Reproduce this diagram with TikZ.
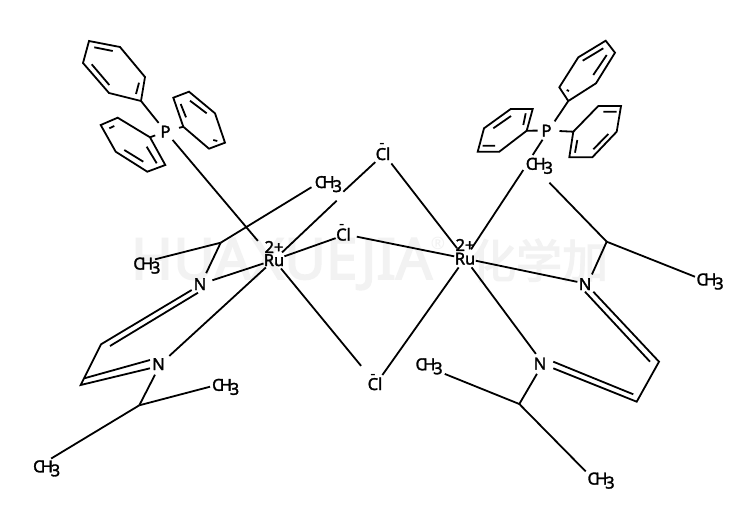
\documentclass[tikz,border=0pt]{standalone}
\usepackage{fontspec}
\setmainfont{Noto Sans}
\newfontfamily\cjkwm{Noto Sans CJK SC}
\definecolor{wmgrey}{HTML}{F2F2F2}
\newcommand\heavy[2]{\special{pdf:code q 2 Tr #1 w}#2\special{pdf:code Q}}
\newcommand\lab[2][0pt]{\makebox[0pt]{\kern#1\raisebox{-6pt}[0pt][0pt]{\heavy{0.3}{#2}}}}
\newcommand\chgroup{\makebox[0pt][l]{\kern-5.2pt\raisebox{-6pt}[0pt][0pt]{\heavy{0.3}{C\kern-2.8pt H\kern-2.2pt\raisebox{-4pt}{3}}}}}
\tikzset{
  bond/.style={line width=1.8pt,black},
  atom/.style={circle,inner sep=0pt,outer sep=0pt,minimum size=#1,font=\fontsize{16.5}{16.5}\selectfont,text=black},
  charge/.style={inner sep=0pt,outer sep=0pt,font=\fontsize{16.5}{16.5}\selectfont,text=black},
  wm/.style={inner sep=0pt,outer sep=0pt,text=wmgrey}
}
\begin{document}
\begin{tikzpicture}[x=1pt,y=-1pt]
\fill[white] (0,0) rectangle (743,520);
\useasboundingbox (0,0) rectangle (743,520);
% watermark
\node[wm,anchor=base west,font=\fontsize{57}{57}\selectfont] (wmA) at (131,279) {\heavy{1.6}{HUAXUEJIA}};
\node[wm,font=\fontsize{17}{17}\selectfont] (wmB) at (438,243) {®};
\node[wm,anchor=base west,font=\cjkwm\fontsize{46}{46}\selectfont] (wmC) at (470,278) {\heavy{1.2}{化学加}};
% metal and hetero atoms
\node[atom=22pt] (RuL) at (274,260) {\lab{Ru}};
\node[atom=22pt] (RuR) at (465,258.5) {\lab{Ru}};
\node[charge] (qL) at (274,247) {\heavy{0.3}{2+}};
\node[charge] (qR) at (465,245) {\heavy{0.3}{2+}};
\node[atom=24pt] (ClT) at (384,154) {\lab[-2pt]{Cl}};
\node[atom=22pt] (ClM) at (346,234.5) {\lab[-5pt]{Cl}};
\node[atom=22pt] (ClB) at (376,384) {\lab[-2pt]{Cl}};
\node[charge] (mT) at (382,146) {-};
\node[charge] (mM) at (341.7,227) {-};
\node[charge] (mB) at (373,377) {-};
\node[atom=22pt] (PL) at (165.5,131.5) {\lab{P}};
\node[atom=22pt] (PR) at (548.5,130.5) {\lab[-4pt]{P}};
\node[atom=24pt] (NLa) at (201,284) {\lab[-2pt]{N}};
\node[atom=24pt] (NLb) at (160.5,364) {\lab[-4pt]{N}};
\node[atom=21pt] (NRa) at (587.6,284) {\lab[-5pt]{N}};
\node[atom=24pt] (NRb) at (543,363.5) {\lab[-6pt]{N}};
% methyl groups
\node[atom=20pt] (Me1) at (320,182) {\chgroup};
\node[atom=34pt] (Me2) at (138.5,263.5) {\chgroup};
\node[atom=30pt] (Me3) at (38.3,466.3) {\chgroup};
\node[atom=15pt] (Me4) at (217.3,384.8) {\chgroup};
\node[atom=14.5pt] (Me5) at (701.7,279.4) {\chgroup};
\node[atom=53pt] (Me6) at (531,163.7) {\chgroup};
\node[atom=52pt] (Me7) at (420.7,364.2) {\chgroup};
\node[atom=20pt] (Me8) at (592.7,478.5) {\chgroup};
% carbon vertices
\coordinate (CL1) at (220.7,242.7);
\coordinate (CL2) at (139.3,405.3);
\coordinate (CR1) at (606.7,241.7);
\coordinate (CR2) at (519.3,404);
\coordinate (LcA) at (101,344.3);
\coordinate (LcB) at (80.7,385);
\coordinate (LaO) at (191.7,290);
\coordinate (LaI) at (198,292.7);
\coordinate (LcAi) at (110,346);
\coordinate (LbO) at (150,368.3);
\coordinate (LbI) at (150,360);
\coordinate (LcBi) at (84.3,378.3);
\coordinate (RcA) at (659,361.7);
\coordinate (RcB) at (636.7,401.7);
\coordinate (RaO) at (593.3,291.7);
\coordinate (RaI) at (585,291.7);
\coordinate (RcAi) at (650,361.7);
\coordinate (RbO) at (553.3,368.3);
\coordinate (RbI) at (553.3,361.7);
\coordinate (RcBi) at (633.3,394.3);
% gaps where bonds pass behind CH3
\coordinate (gapLa) at (336.7,200.7);
\coordinate (gapLb) at (343.3,191.7);
\coordinate (gapRa) at (532.7,155);
\coordinate (gapRb) at (523.3,170);
% rings, left P
\coordinate (A1) at (141,101); \coordinate (A2) at (109,93); \coordinate (A3) at (83,63);
\coordinate (A4) at (89,41); \coordinate (A5) at (120,47); \coordinate (A6) at (145,77);
\coordinate (B1) at (183.3,126.7); \coordinate (B2) at (173.3,97.7); \coordinate (B3) at (189,91.7);
\coordinate (B4) at (215,113.3); \coordinate (B5) at (225,142.7); \coordinate (B6) at (209,148.7);
\coordinate (D1) at (150,137.3); \coordinate (D2) at (117.7,117.7); \coordinate (D3) at (100.7,125);
\coordinate (D4) at (115.7,151.7); \coordinate (D5) at (147.3,171.7); \coordinate (D6) at (165.3,165);
% rings, right P
\coordinate (E1) at (568.3,101); \coordinate (E2) at (559.3,87.3); \coordinate (E3) at (578.3,57.3);
\coordinate (E4) at (605.7,40.7); \coordinate (E5) at (615,52.7); \coordinate (E6) at (596,83.3);
\coordinate (F1) at (526.7,130.7); \coordinate (F2) at (532.7,109); \coordinate (F3) at (510.7,109);
\coordinate (F4) at (484,128.3); \coordinate (F5) at (477.7,151.7); \coordinate (F6) at (499.3,151.7);
\coordinate (G1) at (573.3,131.7); \coordinate (G2) at (598.3,106); \coordinate (G3) at (621,106);
\coordinate (G4) at (616.7,131.7); \coordinate (G5) at (592.3,157.3); \coordinate (G6) at (569.3,157.3);
% ring outlines
\draw[bond] (A1)--(A2)--(A3)--(A4)--(A5)--(A6)--cycle;
\draw[bond] (B1)--(B2)--(B3)--(B4)--(B5)--(B6)--cycle;
\draw[bond] (D1)--(D2)--(D3)--(D4)--(D5)--(D6)--cycle;
\draw[bond] (E1)--(E2)--(E3)--(E4)--(E5)--(E6)--cycle;
\draw[bond] (F1)--(F2)--(F3)--(F4)--(F5)--(F6)--cycle;
\draw[bond] (G1)--(G2)--(G3)--(G4)--(G5)--(G6)--cycle;
% ring inner lines
\draw[bond] (94.3,47.3)--(112.7,51) (136,94)--(139,82.7) (109.3,85)--(91.7,64.3);
\draw[bond] (180.7,104)--(186,117.3) (190,100.7)--(206.7,113.3) (213.3,140)--(217.3,141);
\draw[bond] (109.3,128.3)--(114.3,126) (124.3,150)--(143.3,161.7) (146.7,146.7)--(156.7,163.3);
\draw[bond] (566.7,90)--(569,91) (582.7,60.7)--(603.3,48.3) (606.7,55)--(593.3,75);
\draw[bond] (523.3,125)--(525.7,113.3) (493.3,128.3)--(511,116) (482.7,145.7)--(495,145.7);
\draw[bond] (577.3,140)--(575,152.7) (593.3,149.3)--(608.3,134) (603.3,111.7)--(616.7,111.7);
% P to ring
\draw[bond] (PL)--(A1);
\draw[bond,shorten <=3pt] (PL)--(B1);
\draw[bond] (PL)--(D1);
\draw[bond] (PR)--(E1);
\draw[bond] (PR)--(F1);
\draw[bond] (PR)--(G1);
% P to Ru
\draw[bond,shorten >=14pt] (PL)--(RuL);
\draw[bond] (PR)--(gapRa);
\draw[bond] (gapRb)--(RuR);
% Cl bridges
\draw[bond] (RuL)--(gapLa);
\draw[bond] (gapLb)--(ClT);
\draw[bond] (RuL)--(ClM);
\draw[bond,shorten >=12.5pt] (RuL)--(ClB);
\draw[bond,shorten >=2pt] (ClT)--(RuR);
\draw[bond] (ClM)--(RuR);
\draw[bond] (ClB)--(RuR);
% left ligand
\draw[bond] (CL1)--(Me1);
\draw[bond] (CL1)--(Me2);
\draw[bond] (CL1)--(NLa);
\draw[bond] (NLa)--(RuL);
\draw[bond] (NLb)--(RuL);
\draw[bond] (NLb)--(CL2);
\draw[bond] (CL2)--(Me3);
\draw[bond] (CL2)--(Me4);
\draw[bond] (LaO)--(LcA)--(LcB)--(LbO);
\draw[bond] (LaI)--(LcAi);
\draw[bond] (LbI)--(LcBi);
% right ligand
\draw[bond] (CR1)--(Me6);
\draw[bond] (CR1)--(Me5);
\draw[bond] (CR1)--(NRa);
\draw[bond] (NRa)--(RuR);
\draw[bond] (NRb)--(RuR);
\draw[bond] (NRb)--(CR2);
\draw[bond] (CR2)--(Me7);
\draw[bond] (CR2)--(Me8);
\draw[bond] (RaO)--(RcA)--(RcB)--(RbO);
\draw[bond] (RaI)--(RcAi);
\draw[bond] (RbI)--(RcBi);
\end{tikzpicture}
\end{document}
